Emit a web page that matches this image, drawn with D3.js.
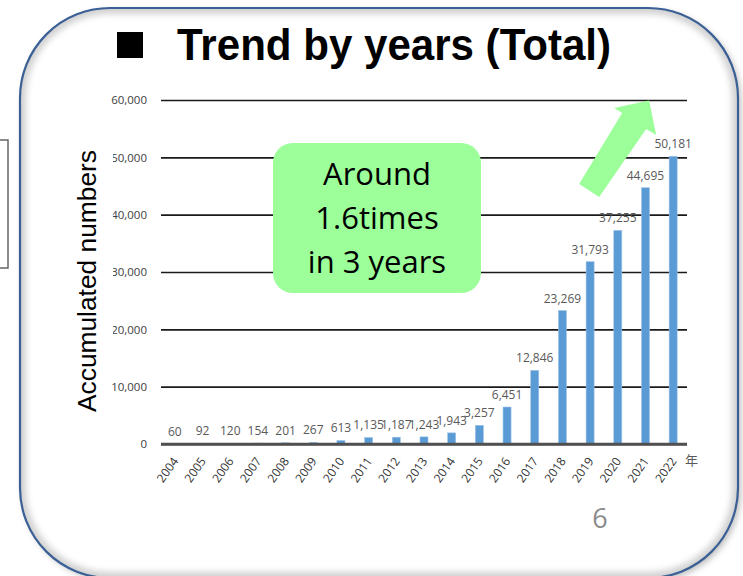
<!DOCTYPE html>
<html>
<head>
<meta charset="utf-8">
<script src="https://cdn.jsdelivr.net/npm/d3@7/dist/d3.min.js"></script>
<style>
  body { margin: 0; background: #fff; }
  svg { display: block; }
</style>
</head>
<body>
<div id="chart"></div>
<script>
// chart data
var years = ["2004", "2005", "2006", "2007", "2008", "2009", "2010", "2011", "2012", "2013",
    "2014", "2015", "2016", "2017", "2018", "2019", "2020", "2021", "2022"];
var totals = [60, 92, 120, 154, 201, 267, 613, 1135, 1187, 1243,
    1943, 3257, 6451, 12846, 23269, 31793, 37255, 44695, 50181];
var yTicks = [0, 10000, 20000, 30000, 40000, 50000, 60000];
var calloutLines = ["Around", "1.6times", "in 3 years"];

var width = 743;
var height = 576;

var svg = d3.select("#chart")
    .append("svg")
    .attr("width", width)
    .attr("height", height)

var defs = svg.append("defs")

defs.append("filter")
    .attr("id", "outer")
    .attr("x", "-10%").attr("y", "-10%").attr("width", "120%").attr("height", "120%")
    .append("feDropShadow")
    .attr("dx", 3).attr("dy", 3).attr("stdDeviation", 3)
    .attr("flood-color", "#000").attr("flood-opacity", 0.25)

defs.append("filter")
    .attr("id", "blur")
    .append("feGaussianBlur")
    .attr("stdDeviation", 3)

defs.append("clipPath")
    .attr("id", "frameClip")
    .append("rect")
    .attr("x", 20).attr("y", 8)
    .attr("width", 718).attr("height", 570)
    .attr("rx", 90).attr("ry", 90)

/*
    little bracket from the neighbouring slide element on the left
*/
svg.append("path")
    .attr("d", "M0,140 H8 V268 H0")
    .attr("fill", "none")
    .attr("stroke", "#666")
    .attr("stroke-width", 1.5)

/*
    rounded frame with soft shadow
*/
svg.append("rect")
    .attr("x", 20).attr("y", 8)
    .attr("width", 718).attr("height", 570)
    .attr("rx", 90).attr("ry", 90)
    .attr("fill", "#fff")
    .attr("filter", "url(#outer)")

svg.append("g")
    .attr("clip-path", "url(#frameClip)")
    .append("rect")
    .attr("x", 20).attr("y", 8)
    .attr("width", 718).attr("height", 570)
    .attr("rx", 90).attr("ry", 90)
    .attr("fill", "none")
    .attr("stroke", "#000")
    .attr("stroke-opacity", 0.18)
    .attr("stroke-width", 12)
    .attr("filter", "url(#blur)")

svg.append("rect")
    .attr("x", 20).attr("y", 8)
    .attr("width", 718).attr("height", 570)
    .attr("rx", 90).attr("ry", 90)
    .attr("fill", "none")
    .attr("stroke", "#3b6095")
    .attr("stroke-width", 2.2)

/*
    title
*/
svg.append("rect")
    .attr("x", 117).attr("y", 32)
    .attr("width", 26).attr("height", 26)
    .attr("fill", "#000")

svg.append("text")
    .attr("x", 177).attr("y", 60)
    .attr("font-family", "Liberation Sans, Arial, sans-serif")
    .attr("font-weight", "bold")
    .attr("font-size", 44)
    .attr("textLength", 434)
    .attr("lengthAdjust", "spacingAndGlyphs")
    .attr("fill", "#000")
    .text("Trend by years (Total)")

/*
    scales
*/
var x = d3.scaleBand()
    .domain(years)
    .range([161, 687])
    .paddingInner(0.71)
    .paddingOuter(0.355)

var y = d3.scaleLinear()
    .domain([0, 60000])
    .range([444, 100])

/*
    gridlines + y tick labels
*/
var yAxis = svg.append("g")
    .attr("transform", "translate(161,0)")
    .call(d3.axisLeft(y)
        .tickValues(yTicks)
        .tickSize(-526)
        .tickPadding(14)
        .tickFormat(d3.format(",")))

yAxis.select(".domain").remove()
yAxis.selectAll(".tick line")
    .attr("stroke", function (d) { return d === 0 ? "#505050" : "#1a1a1a" })
    .attr("stroke-width", function (d) { return d === 0 ? 2.5 : 1.6 })
yAxis.selectAll(".tick text")
    .attr("font-family", "Open Sans, sans-serif")
    .attr("font-size", 11.5)
    .attr("fill", "#404040")

/*
    bars
*/
svg.selectAll(".bar")
    .data(totals)
    .enter().append("rect")
    .attr("class", "bar")
    .attr("x", function (d, i) { return x(years[i]) })
    .attr("y", function (d) { return y(d) })
    .attr("width", x.bandwidth())
    .attr("height", function (d) { return y(0) - y(d) })
    .attr("fill", "#5b9bd5")
    .attr("stroke", "#9dc3e6")
    .attr("stroke-width", 0.6)

// redraw baseline over bars
svg.append("line")
    .attr("x1", 161).attr("x2", 687)
    .attr("y1", y(0)).attr("y2", y(0))
    .attr("stroke", "#505050")
    .attr("stroke-width", 2.5)

/*
    value labels
*/
svg.selectAll(".value")
    .data(totals)
    .enter().append("text")
    .attr("class", "value")
    .attr("x", function (d, i) { return x(years[i]) + x.bandwidth() / 2 })
    .attr("y", function (d) { return y(d) - 8 })
    .attr("text-anchor", "middle")
    .attr("font-family", "Open Sans, sans-serif")
    .attr("font-size", 12)
    .attr("fill", "#595959")
    .text(function (d) { return d3.format(",")(d) })

/*
    x labels, rotated
*/
svg.selectAll(".year")
    .data(years)
    .enter().append("text")
    .attr("class", "year")
    .attr("transform", function (d) {
        return "translate(" + (x(d) + x.bandwidth() / 2 + 4) + ",461) rotate(-55)"
    })
    .attr("text-anchor", "end")
    .attr("font-family", "Open Sans, sans-serif")
    .attr("font-size", 12)
    .attr("fill", "#333")
    .text(function (d) { return d })

svg.append("text")
    .attr("x", 685).attr("y", 465)
    .attr("font-family", "Noto Sans CJK JP, sans-serif")
    .attr("font-size", 13)
    .attr("fill", "#595959")
    .text("年")

/*
    y axis title (its white box hides part of some tick labels)
*/
svg.append("rect")
    .attr("x", 66).attr("y", 148)
    .attr("width", 47).attr("height", 200)
    .attr("fill", "#fff")

svg.append("text")
    .attr("transform", "translate(96,281) rotate(-90)")
    .attr("text-anchor", "middle")
    .attr("font-family", "Liberation Sans, Arial, sans-serif")
    .attr("font-size", 26)
    .attr("textLength", 262)
    .attr("lengthAdjust", "spacingAndGlyphs")
    .attr("fill", "#000")
    .text("Accumulated numbers")

/*
    callout box
*/
var box = svg.append("g")

box.append("rect")
    .attr("x", 273).attr("y", 143)
    .attr("width", 208).attr("height", 150)
    .attr("rx", 20).attr("ry", 20)
    .attr("fill", "#9cff9a")

box.selectAll("text")
    .data(calloutLines)
    .enter().append("text")
    .attr("x", 377)
    .attr("y", function (d, i) { return 185 + i * 44 })
    .attr("text-anchor", "middle")
    .attr("font-family", "Open Sans, sans-serif")
    .attr("font-size", 31)
    .attr("fill", "#000")
    .text(function (d) { return d })

/*
    upward arrow, anchored near the top gridline
*/
var tipX = x("2022") - 20;
var tipY = y(60000) + 0.5;
var arrowPts = [
    [-70, 83.5], [-27, 12.5], [-35, 7.5], [0, 0], [7, 34.5], [-3, 28.5], [-50, 96.5]
];

svg.append("polygon")
    .attr("points", arrowPts.map(function (p) {
        return (tipX + p[0]) + "," + (tipY + p[1])
    }).join(" "))
    .attr("fill", "#9cff9a")

/*
    page number
*/
svg.append("text")
    .attr("x", 600).attr("y", 528)
    .attr("text-anchor", "middle")
    .attr("font-family", "Open Sans, sans-serif")
    .attr("font-size", 27)
    .attr("fill", "#8c8c8c")
    .text("6")
</script>
</body>
</html>
